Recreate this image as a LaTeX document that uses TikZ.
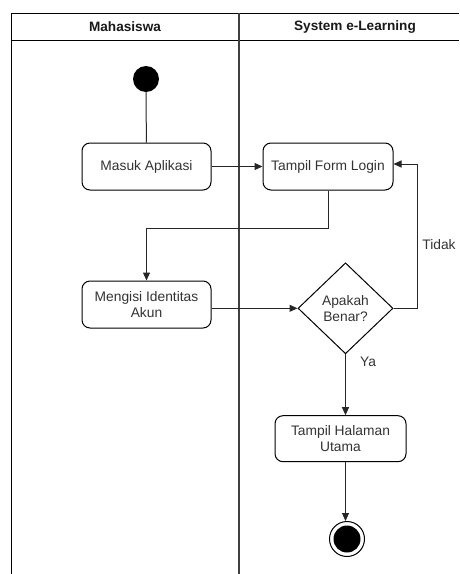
\documentclass[tikz,border=0pt]{standalone}
\usepackage{fontspec}
\setmainfont{Liberation Sans}
\usetikzlibrary{shapes.geometric,arrows.meta}

\tikzset{
  lane/.style={draw=black, line width=1pt},
  lanediv/.style={draw=black!75, line width=1.6pt},
  lanetitle/.style={font=\fontsize{13.6}{16}\selectfont\bfseries, text=black!90},
  action/.style={draw=black, line width=1pt, rounded corners=8pt, fill=white,
    align=center, inner sep=0pt, text=black!80,
    font=\fontsize{13.8}{16}\selectfont},
  decision/.style={draw=black, line width=1pt, diamond, aspect=1.04, inner sep=0pt,
    minimum width=95pt, minimum height=91pt, align=center, text=black!80,
    font=\fontsize{13.8}{16}\selectfont},
  flow/.style={draw=black!85, line width=1pt, -{Triangle[length=8pt,width=7pt]}},
  plainflow/.style={draw=black!85, line width=1pt},
  guard/.style={text=black!80, font=\fontsize{13.8}{16}\selectfont},
  startnode/.style={circle, fill=black, minimum size=26pt, inner sep=0pt},
  endring/.style={circle, draw=black, line width=1pt, fill=white, minimum size=35pt, inner sep=0pt},
  endcore/.style={circle, fill=black, minimum size=27pt, inner sep=0pt}
}

\begin{document}
\begin{tikzpicture}[x=1pt, y=-1pt]
  \useasboundingbox (0,0) rectangle (459,574);

  % swimlane frame
  \draw[lane] (459,13) -- (11,13) -- (11,574);
  \draw[lane] (11,40) -- (459,40);
  \draw[lanediv] (239,13) -- (239,574);
  \node[lanetitle] (laneA) at (125,27) {Mahasiswa};
  \node[lanetitle] (laneB) at (355,27) {System e-Learning};

  % activities
  \node[startnode] (start) at (146,79) {};
  \node[action, minimum width=129pt, minimum height=47pt] (masuk) at (146.5,166.5) {Masuk Aplikasi};
  \node[action, minimum width=130pt, minimum height=47pt] (form) at (328,166.5) {Tampil Form Login};
  \node[action, minimum width=129pt, minimum height=47pt] (isi) at (146.5,304.5) {Mengisi Identitas\\Akun};
  \node[decision] (cek) at (345.5,308.3) {Apakah\\Benar?};
  \node[action, minimum width=131pt, minimum height=46pt] (utama) at (340.5,438.7) {Tampil Halaman\\Utama};
  \node[endring] (stop) at (347,539) {};
  \node[endcore] (stopcore) at (stop) {};

  % control flow
  \draw[plainflow] (start) -- (masuk);
  \draw[flow] (masuk) -- (form);
  \coordinate (bend) at (0,228);
  \draw[flow] ([xshift=0.7pt]form.south) |- (bend -| isi.north) -- (isi.north);
  \draw[flow] (cek.west -| isi.east) -- (cek.west);
  \coordinate (loopx) at (417,0);
  \draw[flow] (cek.east) -- (cek.east -| loopx) |- ([yshift=2.5pt]form.east);
  \draw[flow] (cek.south) -- (cek.south |- utama.north);
  \draw[flow] (cek.south |- utama.south) -- (stop.north -| cek.south);

  % guards
  \node[guard] (no) at (439,245) {Tidak};
  \node[guard] (yes) at (368,362) {Ya};
\end{tikzpicture}
\end{document}
